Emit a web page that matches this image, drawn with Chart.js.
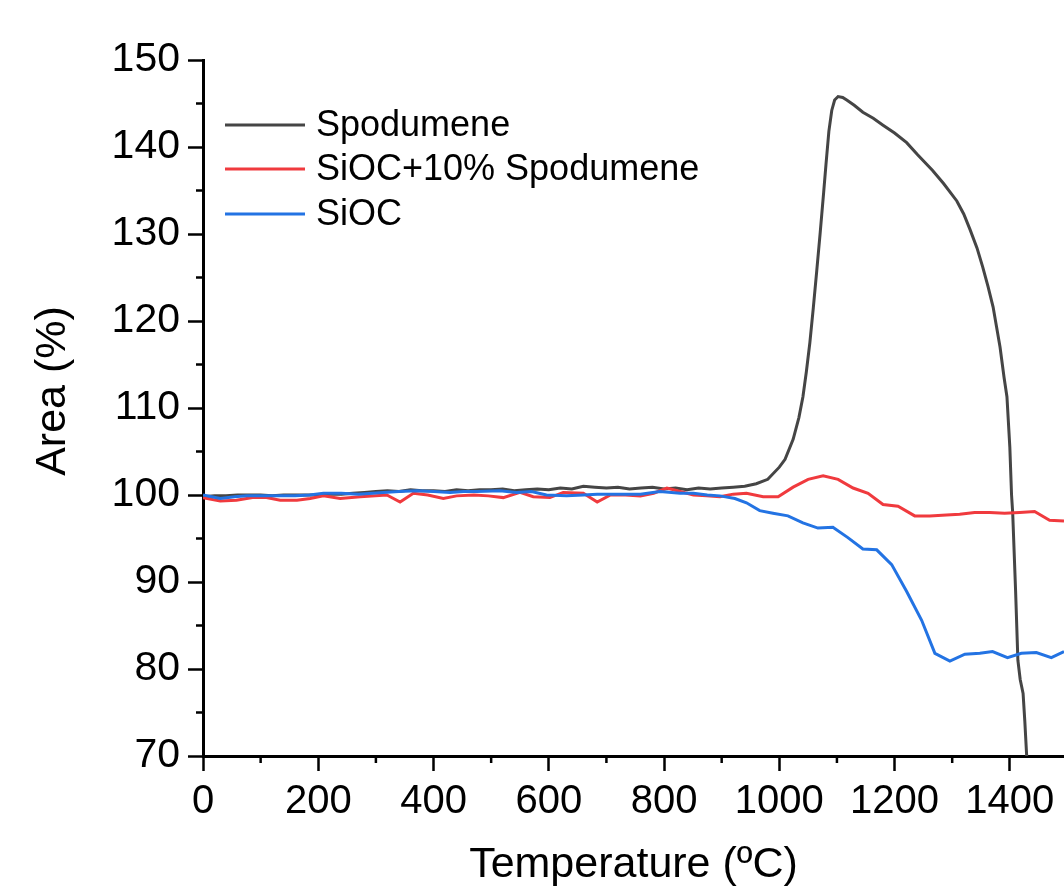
<!DOCTYPE html>
<html>
<head>
<meta charset="utf-8">
<script src="https://cdn.jsdelivr.net/npm/chart.js@4.4.1/dist/chart.umd.min.js"></script>
<style>
  html, body { margin: 0; padding: 0; background: #fff; }
  #wrap { width: 1064px; height: 891px; }
</style>
</head>
<body>
<div id="wrap"><canvas id="areaChart" width="1064" height="891"></canvas></div>
<script>
// Spodumene (courbe)
const spodTemp = [0, 20, 40, 60, 80, 100, 120, 140, 160, 180, 200, 220, 240, 260, 280, 300, 320, 340, 360, 380,
  400, 420, 440, 460, 480, 500, 520, 540, 560, 580, 600, 620, 640, 660, 680, 700, 720, 740, 760, 780,
  800, 820, 840, 860, 880, 900, 920, 940, 960, 980, 1000, 1010, 1024, 1034, 1041, 1047, 1053, 1059, 1065, 1071,
  1077, 1081, 1086, 1091, 1096, 1102, 1110, 1117, 1130, 1145, 1163, 1180, 1200, 1221, 1240, 1266, 1285, 1308, 1320,
  1331, 1343, 1353, 1362, 1371, 1377, 1383, 1390, 1395, 1400, 1403, 1405, 1410, 1414, 1418, 1423, 1426, 1429, 1431];
const spodArea = [99.8, 99.9, 99.9, 100.0, 100.0, 100.0, 99.9, 100.0, 100.0, 100.0, 100.0, 100.1, 100.1, 100.2, 100.3, 100.4, 100.5, 100.4, 100.6, 100.5,
  100.5, 100.4, 100.6, 100.5, 100.6, 100.6, 100.7, 100.5, 100.6, 100.7, 100.6, 100.8, 100.7, 101.0, 100.9, 100.8, 100.9, 100.7, 100.8, 100.9,
  100.7, 100.8, 100.6, 100.8, 100.7, 100.8, 100.9, 101.0, 101.3, 101.8, 103.2, 104.1, 106.4, 108.9, 111.3, 114.2, 117.5, 121.5, 125.8, 130.2,
  134.8, 138.0, 141.8, 144.2, 145.4, 145.8, 145.7, 145.4, 144.8, 144.0, 143.3, 142.5, 141.6, 140.5, 139.1, 137.3, 135.8, 133.8, 132.3,
  130.5, 128.4, 126.2, 124.0, 121.6, 119.3, 117.0, 113.5, 111.3, 105.5, 100.0, 97.9, 89.0, 81.0, 78.8, 77.2, 74.0, 70.3, 68.0];

// SiOC + 10% Spodumene
const mixTemp = [0, 30, 58, 86, 110, 134, 163, 186, 209, 238, 273, 319, 342, 365, 390, 417, 440, 470, 495, 521,
  550, 573, 602, 625, 660, 684, 707, 733, 759, 782, 805, 828, 851, 874, 897, 920, 943, 972, 998, 1024,
  1050, 1076, 1102, 1128, 1154, 1180, 1206, 1235, 1261, 1290, 1313, 1339, 1365, 1391, 1417, 1443, 1469, 1494];
const mixArea = [99.7, 99.3, 99.4, 99.7, 99.7, 99.4, 99.4, 99.6, 99.9, 99.6, 99.8, 100.0, 99.2, 100.2, 100.0, 99.6, 99.9, 100.0, 99.9, 99.7,
  100.3, 99.8, 99.7, 100.3, 100.2, 99.2, 100.0, 100.0, 99.9, 100.2, 100.8, 100.4, 100.0, 99.9, 99.8, 100.1, 100.2, 99.8, 99.8, 100.9,
  101.8, 102.2, 101.8, 100.8, 100.2, 98.9, 98.7, 97.6, 97.6, 97.7, 97.8, 98.0, 98.0, 97.9, 98.0, 98.1, 97.1, 97.0];

// SiOC
const siocTemp = [0, 30, 55, 76, 105, 134, 160, 185, 209, 240, 270, 313, 340, 371, 400, 429, 452, 475, 515, 544,
  570, 596, 631, 660, 684, 720, 759, 793, 828, 851, 875, 897, 923, 943, 966, 989, 1015, 1041, 1067, 1093,
  1119, 1145, 1169, 1195, 1221, 1247, 1270, 1296, 1322, 1348, 1370, 1396, 1420, 1446, 1472, 1494];
const siocArea = [100.0, 99.6, 99.8, 99.9, 99.9, 99.9, 99.9, 100.0, 100.2, 100.2, 100.1, 100.3, 100.4, 100.5, 100.4, 100.3, 100.4, 100.4, 100.5, 100.3,
  100.4, 100.0, 99.9, 100.0, 100.1, 100.1, 100.1, 100.4, 100.2, 100.2, 100.0, 99.9, 99.6, 99.1, 98.2, 97.9, 97.6, 96.8, 96.2, 96.3,
  95.1, 93.8, 93.7, 92.0, 88.9, 85.6, 81.8, 80.9, 81.7, 81.8, 82.0, 81.3, 81.8, 81.9, 81.3, 82.0];

const seriesNames = ['Spodumene', 'SiOC+10% Spodumene', 'SiOC'];
const seriesColors = ['#454545', '#f03a3e', '#2373e3'];

const xTicks = [0, 100, 200, 300, 400, 500, 600, 700, 800, 900, 1000, 1100, 1200, 1300, 1400];
const yTicks = [70, 75, 80, 85, 90, 95, 100, 105, 110, 115, 120, 125, 130, 135, 140, 145, 150];

function toPoints(xs, ys) {
  return xs.map((x, i) => ({ x: x, y: ys[i] }));
}

const FONT = "'Liberation Sans', Arial, sans-serif";

// petits traits des graduations secondaires + légende + titre de l'axe Y
const decorPlugin = {
  id: 'decor',
  afterDraw(chart) {
    const ctx = chart.ctx;
    const xs = chart.scales.x;
    const ys = chart.scales.y;
    ctx.save();
    ctx.strokeStyle = '#000';
    ctx.lineWidth = 2.5;
    xTicks.forEach(v => {
      if (v % 200 !== 0) {
        const px = xs.getPixelForValue(v);
        ctx.beginPath();
        ctx.moveTo(px, xs.top);
        ctx.lineTo(px, xs.top + 7);
        ctx.stroke();
      }
    });
    yTicks.forEach(v => {
      if (v % 10 !== 0) {
        const py = ys.getPixelForValue(v);
        ctx.beginPath();
        ctx.moveTo(ys.right, py);
        ctx.lineTo(ys.right - 7, py);
        ctx.stroke();
      }
    });

    // légende
    ctx.font = '36px ' + FONT;
    ctx.textBaseline = 'middle';
    ctx.textAlign = 'left';
    ctx.fillStyle = '#000';
    const rows = [125, 169, 214];
    seriesNames.forEach((name, i) => {
      ctx.strokeStyle = seriesColors[i];
      ctx.lineWidth = 3;
      ctx.beginPath();
      ctx.moveTo(225, rows[i]);
      ctx.lineTo(305, rows[i]);
      ctx.stroke();
      ctx.fillText(name, 316, rows[i] + 1);
    });

    // titre de l'axe Y
    ctx.translate(53, 391);
    ctx.rotate(-Math.PI / 2);
    ctx.textAlign = 'center';
    ctx.font = '43px ' + FONT;
    ctx.fillText('Area (%)', 0, 0);
    ctx.restore();
  }
};

const ctx = document.getElementById('areaChart').getContext('2d');
new Chart(ctx, {
  type: 'scatter',
  data: {
    datasets: [
      { label: seriesNames[2], data: toPoints(siocTemp, siocArea), borderColor: seriesColors[2], order: 0 },
      { label: seriesNames[1], data: toPoints(mixTemp, mixArea), borderColor: seriesColors[1], order: 1 },
      { label: seriesNames[0], data: toPoints(spodTemp, spodArea), borderColor: seriesColors[0], order: 2 }
    ].map(d => Object.assign(d, { showLine: true, pointRadius: 0, borderWidth: 3, tension: 0, fill: false }))
  },
  options: {
    responsive: false,
    animation: false,
    devicePixelRatio: 1,
    layout: { padding: { top: 60, left: 0, right: 0, bottom: 0 } },
    plugins: { legend: { display: false }, tooltip: { enabled: false } },
    scales: {
      x: {
        type: 'linear',
        min: 0,
        max: 1494,
        afterBuildTicks: axis => { axis.ticks = xTicks.map(v => ({ value: v })); },
        afterFit: axis => { axis.height = 135; },
        border: { display: true, color: '#000', width: 3 },
        grid: {
          drawOnChartArea: false,
          drawTicks: true,
          tickLength: 15,
          tickWidth: 2.5,
          tickColor: c => (c.tick && c.tick.value % 200 === 0) ? '#000' : 'rgba(0,0,0,0)'
        },
        ticks: {
          autoSkip: false,
          maxRotation: 0,
          padding: 7,
          color: '#000',
          font: { family: FONT, size: 40 },
          callback: v => (v % 200 === 0 ? String(v) : '')
        },
        title: {
          display: true,
          text: 'Temperature (ºC)',
          color: '#000',
          font: { family: FONT, size: 43 },
          padding: { top: 0, bottom: 0 }
        }
      },
      y: {
        type: 'linear',
        min: 70,
        max: 150,
        afterBuildTicks: axis => { axis.ticks = yTicks.map(v => ({ value: v })); },
        afterFit: axis => { axis.width = 203; },
        border: { display: true, color: '#000', width: 3 },
        grid: {
          drawOnChartArea: false,
          drawTicks: true,
          tickLength: 15,
          tickWidth: 2.5,
          tickColor: c => (c.tick && c.tick.value % 10 === 0) ? '#000' : 'rgba(0,0,0,0)'
        },
        ticks: {
          autoSkip: false,
          padding: 8,
          color: '#000',
          font: { family: FONT, size: 41 },
          callback: v => (v % 10 === 0 ? String(v) : '')
        }
      }
    }
  },
  plugins: [decorPlugin]
});
</script>
</body>
</html>
